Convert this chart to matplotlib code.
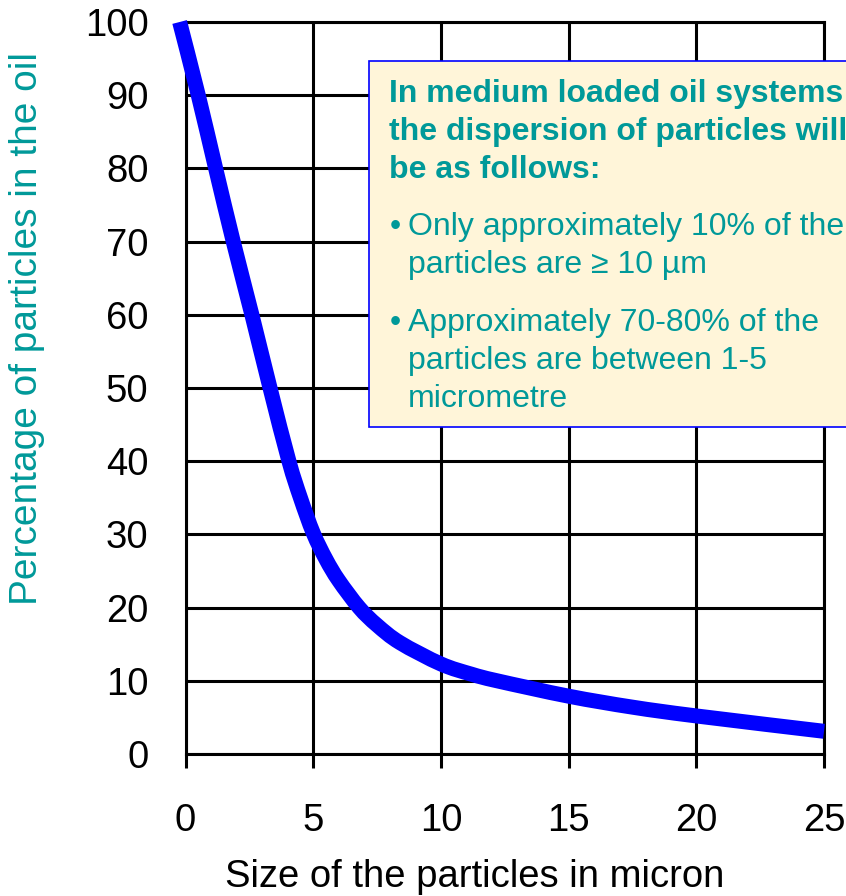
import matplotlib
matplotlib.use("Agg")
import matplotlib.pyplot as plt
from matplotlib.patches import Rectangle, PathPatch
from matplotlib.path import Path

# ---- data ----
size_micron = [-0.23, 0.5, 1.18, 1.87, 2.6, 3.31, 4.05, 4.5, 5.0, 5.5, 6.0, 6.8, 7.5,
               8.4, 10, 11.2, 12.2, 15, 17.5, 20, 25]
percentage = [100, 90, 80, 70, 60, 50, 40, 35, 30.2, 26.6, 23.7, 20, 17.6,
              15.2, 12.3, 10.9, 10.0, 7.9, 6.4, 5.2, 3.1]
x_ticks = [0, 5, 10, 15, 20, 25]
y_ticks = [0, 10, 20, 30, 40, 50, 60, 70, 80, 90, 100]
x_label = "Size of the particles in micron"
y_label = "Percentage of particles in the oil"
box_title = ["In medium loaded oil systems", "the dispersion of particles will", "be as follows:"]
box_bullets = [["Only approximately 10% of the", "particles are \u2265 10 \u00b5m"],
               ["Approximately 70-80% of the", "particles are between 1-5", "micrometre"]]

plt.rcParams['font.family'] = ["Liberation Sans", "DejaVu Sans"]

W, H = 846, 896
DPI = 100
TEAL = "#009999"

fig = plt.figure(figsize=(W / DPI, H / DPI), dpi=DPI)
ax = fig.add_axes([185.5 / W, 1 - 754 / H, (824 - 185.5) / W, (754 - 22) / H])

# smooth line through the data points (Catmull-Rom rendered as cubic Beziers)
pts = list(zip(size_micron, percentage))
ext = [pts[0]] + pts + [pts[-1]]
verts = [pts[0]]
codes = [Path.MOVETO]
for i in range(1, len(ext) - 2):
    p0, p1, p2, p3 = ext[i - 1], ext[i], ext[i + 1], ext[i + 2]
    c1 = (p1[0] + (p2[0] - p0[0]) / 6, p1[1] + (p2[1] - p0[1]) / 6)
    c2 = (p2[0] - (p3[0] - p1[0]) / 6, p2[1] - (p3[1] - p1[1]) / 6)
    verts += [c1, c2, p2]
    codes += [Path.CURVE4] * 3
curve = PathPatch(Path(verts, codes), transform=ax.transData, fill=False,
                  edgecolor="#0000FF", lw=10.8, capstyle="butt", joinstyle="round",
                  clip_on=False, zorder=5)
ax.add_patch(curve)

ax.set_xlim(0, 25)
ax.set_ylim(0, 100)
ax.set_xticks(x_ticks)
ax.set_yticks(y_ticks)
ax.grid(True, color="black", lw=2.2)
ax.set_axisbelow(True)
for s in ax.spines.values():
    s.set_linewidth(2.2)
    s.set_color("black")
ax.tick_params(axis="x", direction="out", length=10, width=2.2, pad=25, labelsize=27.5)
ax.tick_params(axis="y", length=0, pad=26.6, labelsize=27.5)

fig.text(475 / W, 1 - 887 / H, x_label, ha="center", va="baseline", fontsize=27.5)
fig.text(27 / W, 1 - 328 / H, y_label, ha="center", va="center", rotation=90,
         fontsize=28, color=TEAL)

# text box
box = Rectangle((369 / W, 1 - 427 / H), (W - 369 + 20) / W, (427 - 61) / H,
                transform=fig.transFigure, facecolor="#FFF5D9", edgecolor="#0000FF",
                lw=1.2, zorder=10, clip_on=False)
fig.patches.append(box)

for i, line in enumerate(box_title):
    fig.text(389 / W, 1 - (102 + 38 * i) / H, line, ha="left", va="baseline",
             fontsize=23, fontweight="bold", color=TEAL, zorder=11)

baselines = [[235, 273], [331, 369, 407]]
for bullet, bls in zip(box_bullets, baselines):
    fig.text(390 / W, 1 - bls[0] / H, "\u2022", ha="left", va="baseline",
             fontsize=23, color=TEAL, zorder=11)
    for line, bl in zip(bullet, bls):
        fig.text(408 / W, 1 - bl / H, line, ha="left", va="baseline",
                 fontsize=23, color=TEAL, zorder=11)

fig.savefig("out.png", dpi=DPI)
